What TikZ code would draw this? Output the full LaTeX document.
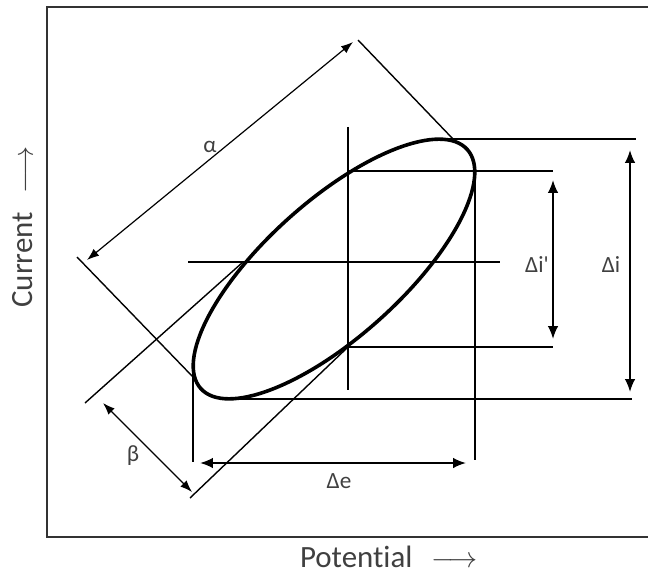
\documentclass[tikz,border=0pt]{standalone}
\usepackage{fontspec}
\setmainfont{Carlito}[Ligatures=NoCommon]
\newfontfamily\rawfont{Carlito}[Ligatures=NoCommon]
\usetikzlibrary{arrows.meta}

\begin{document}
\begin{tikzpicture}[x=0.25mm, y=-0.25mm,
    frame/.style={draw=black!80, line width=0.6mm},
    guide/.style={draw=black, line width=0.45mm},
    slant/.style={draw=black, line width=0.35mm},
    dimthin/.style={draw=black, line width=0.3mm, {Latex[length=3mm,width=2.2mm]}-{Latex[length=3mm,width=2.2mm]}},
    dimthick/.style={draw=black, line width=0.45mm, {Latex[length=3.2mm,width=2.6mm]}-{Latex[length=3.2mm,width=2.6mm]}},
    lbl/.style={text=black!75, font=\fontsize{16.5}{18}\selectfont, inner sep=0pt},
    axlbl/.style={text=black!75, font=\fontsize{22}{26}\selectfont, inner sep=0pt}]
  \useasboundingbox (0,0) rectangle (648,574);
  % ellipse: centre (334,269), tilt 41.9 deg, semi-axes 179 / 68
  \def\elx{334}
  \def\ely{269}
  \def\eltilt{41.9}
  \coordinate (ctr) at (\elx,\ely);
  \draw[frame] (652,7) -- (47,7) -- (47,537) -- (652,537);
  % guide lines
  \draw[guide] (348,127) -- (348,390);
  \draw[guide] (188,262) -- (500,262);
  \draw[guide] (437,139) -- (636,139);
  \draw[guide] (348,171) -- (553,171);
  \draw[guide] (348,347) -- (553,347);
  \draw[guide] (227,399) -- (632,399);
  \draw[guide] (193,365) -- (193,462);
  \draw[guide] (475,168) -- (475,460);
  % tangents and normals of the loop
  \draw[slant] (85,403) -- (243,262);
  \draw[slant] (190,498) -- (348,347);
  \draw[slant] (77,257) -- (193,377);
  \draw[slant] (358,40) -- (453,139);
  \draw[line width=0.9mm, rotate around={\eltilt:(ctr)}] (ctr) ellipse [x radius=179, y radius=68];
  % dimensions
  \draw[dimthin] (87,260) -- (353,42);
  \draw[dimthin] (103,403) -- (192,492);
  \draw[dimthick] (553,180) -- (553,339);
  \draw[dimthick] (630,150) -- (630,392);
  \draw[dimthick] (200,463) -- (466,463);
  \node[lbl] (alpha) at (210,147) {α};
  \node[lbl] (beta) at (133,456) {β};
  \node[lbl] (dip) at (537,265) {Δi{\rawfont'}};
  \node[lbl] (di) at (611,265) {Δi};
  \node[lbl] (de) at (339,481) {Δe};
  \node[axlbl] (pot) at (389,557) {Potential\hspace{0.6em}$\longrightarrow$};
  \node[axlbl, rotate=90] (cur) at (23,227) {Current\hspace{0.6em}$\longrightarrow$};
\end{tikzpicture}
\end{document}
